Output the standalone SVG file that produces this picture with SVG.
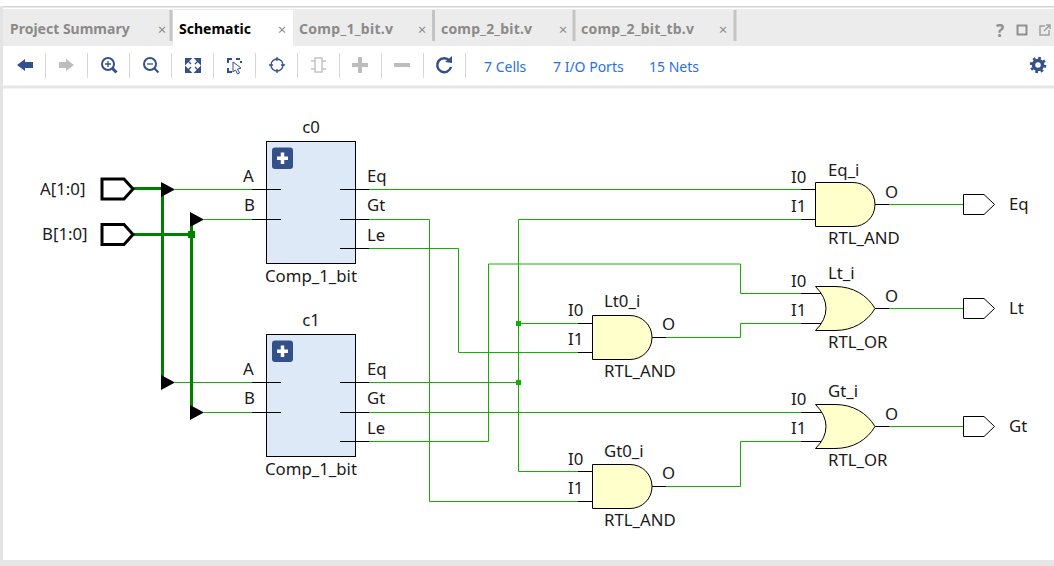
<svg xmlns="http://www.w3.org/2000/svg" xmlns:xlink="http://www.w3.org/1999/xlink" width="1054" height="566" viewBox="0 0 1054 566">
<style>
text{font-family:"Noto Sans","Open Sans","Liberation Sans",sans-serif;font-size:16.8px;fill:#1a1a1a}
.tab{font-size:14px;font-weight:700;fill:#8c8a88}
.tabOn{fill:#000}
.x{font-size:15px;fill:#8f8f8f;text-anchor:middle}
.link{font-size:14px;fill:#2a6fe8}
.sep{stroke:#d6d6d6;stroke-width:1;fill:none}
.tsep{stroke:#c4c4c4;stroke-width:3;fill:none}
.wire{stroke:#14b000;stroke-width:1;fill:none}
.bus{stroke:#008000;stroke-width:3;fill:none}
.dot{fill:#14b000}
.pin{stroke:#000;stroke-width:1;fill:none}
.box{fill:#dee9f8;stroke:#000;stroke-width:1}
.gate{fill:#ffffcc;stroke:#000;stroke-width:1}
.port{fill:#fff;stroke:#000;stroke-width:1}
.iport{fill:#fff;stroke:#000;stroke-width:3}
.ib{fill:#34508a}
.ig{fill:#bdbdbd}
.sb{fill:none;stroke:#34508a;stroke-width:2}
.thin{stroke-width:1.300}
.sg{fill:none;stroke:#c4c4c4;stroke-width:1.500}
.help{font-size:17px;font-weight:700;fill:#8f8f8f;text-anchor:middle}
</style>
<defs>
<path id="and" class="gate" d="M0.5 0.5H38C50 0.5 60 10 60 22.5C60 35 50 44.5 38 44.5H0.5Z"/>
<path id="or" class="gate" d="M0.5 0.5H20C38 0.5 52 9 60 22.5C52 36 38 44.5 20 44.5H0.5Q11 34 11 22.5Q11 11 0.5 0.5Z"/>
<path id="oport" class="port" d="M0.5 0.5H21L31.5 10.5L21 20.5H0.5Z"/>
<path id="inport" class="iport" d="M0 0H22L31 10L22 20H0Z"/>
<polygon id="tri" points="0,-7.5 14,0 0,7.5" fill="#000"/>
<g id="plus"><rect width="21" height="21.500" rx="3" fill="#34508a"/><path d="M10.500 5V16.500M5 10.750H16" stroke="#fff" stroke-width="3.500"/></g>
</defs>
<rect width="1054" height="566" fill="#fff"/>

<g id="chrome">
<rect x="0" y="6" width="1054" height="1.500" fill="#d4d4d4"/>
<rect x="0" y="9" width="1054" height="37" fill="#ececec"/>
<rect x="173" y="10" width="120" height="36" fill="#fff"/>
<rect x="0" y="6" width="3" height="560" fill="#e4e4e4"/>
<rect x="0" y="85.500" width="1054" height="3" fill="#e6e6e6"/>
<rect x="0" y="560" width="1054" height="6" fill="#e6e6e6"/>
<path class="tsep" d="M171 10V41M433.500 10V41M574 10V41M735 10V41"/>
<text class="tab" x="10" y="34">Project Summary</text>
<text class="tab tabOn" x="179" y="34">Schematic</text>
<text class="tab" x="299" y="34" textLength="94">Comp_1_bit.v</text>
<text class="tab" x="441" y="34" textLength="91">comp_2_bit.v</text>
<text class="tab" x="581" y="34" textLength="113">comp_2_bit_tb.v</text>
<text class="x" x="162" y="35">×</text>
<text class="x" x="282" y="35">×</text>
<text class="x" x="422" y="35">×</text>
<text class="x" x="563" y="35">×</text>
<text class="x" x="723" y="35">×</text>
<text class="help" x="1000" y="37">?</text>
<rect x="1017.500" y="25.500" width="9" height="9" fill="none" stroke="#8f8f8f" stroke-width="2"/>
<path d="M1045 26H1040V35H1049V30M1044 31L1050 25M1046 25H1050V29" fill="none" stroke="#a0a0a0" stroke-width="1.500"/>
<path class="sep" d="M45.500 53V78M87.500 53V78M129.500 53V78M171.500 53V78M213.500 53V78M255.500 53V78M297.500 53V78M339.500 53V78M381.500 53V78M423.500 53V78M465.500 53V78"/>
<path class="ib" d="M17 65L25 59V62H33V68H25V71Z"/>
<path class="ig" d="M74 65L66 59V62H59V68H66V71Z"/>
<g class="sb"><circle cx="108" cy="64" r="6"/><path class="thin" d="M108 61V67M105 64H111"/><path d="M112.500 68.500L116.500 72.500" stroke-width="3"/></g>
<g class="sb"><circle cx="150" cy="64" r="6"/><path class="thin" d="M147 64H153"/><path d="M154.500 68.500L158.500 72.500"/></g>
<path class="sb" d="M186 59H190L186 63ZM200 59H196L200 63ZM186 72H190L186 68ZM200 72H196L200 68Z"/>
<path class="sb thin" d="M188 61L191 64M198 61L195 64M188 70L191 67M198 70L195 67"/>
<path class="sb" d="M232 59H228V63M240 59H236M228 68V72H232M241 63V61"/>
<path d="M233 62L241 68L237.500 69L239.500 73L237.500 74L235.500 70L233 72Z" fill="#fff" stroke="#34508a"/>
<g class="sb thin"><circle cx="277" cy="65" r="6"/><path d="M277 57V61M277 69V73M269 65H273M281 65H285"/></g>
<g class="sg"><rect x="315" y="58" width="7" height="14"/><path d="M311 61H315M311 69H315M322 61H326M322 69H326"/></g>
<path class="ig" d="M358 57H362V63H368V67H362V73H358V67H352V63H358Z"/>
<rect class="ig" x="394" y="63" width="16" height="4"/>
<path class="sb" style="stroke-width:2.500" d="M449.500 60.500A7 7 0 1 0 451 67"/>
<path class="ib" d="M445 62L452 56V63Z"/>
<text class="link" x="484" y="72">7 Cells</text>
<text class="link" x="553" y="72">7 I/O Ports</text>
<text class="link" x="649" y="72">15 Nets</text>
<circle cx="1038" cy="65" r="4.500" fill="none" stroke="#34508a" stroke-width="3.500"/>
<circle cx="1038" cy="65" r="7" fill="none" stroke="#34508a" stroke-width="2.500" stroke-dasharray="2.700 2.800"/>
</g>

<g id="connectors">
<path class="wire" d="M175 189.500H252M204 219.500H252M175 382.500H252M204 412.500H252"/>
<path class="wire" d="M369 189.500H801"/>
<path class="wire" d="M369 219.500H429.500V501.500H578"/>
<path class="wire" d="M369 248.500H458.500V352.500H578"/>
<path class="wire" d="M369 382.500H518.500"/>
<path class="wire" d="M801 219.500H518.500V471.500H578M518.500 323.500H578"/>
<path class="wire" d="M369 412.500H801"/>
<path class="wire" d="M369 441.500H488.500V264H740.500V293.500H801"/>
<path class="wire" d="M666 337.500H740.500V323.500H801"/>
<path class="wire" d="M666 486.500H740.500V441.500H801"/>
<path class="wire" d="M889 204.500H963M889 308.500H963M889 426.500H963"/>
<rect class="dot" x="516" y="321" width="5" height="5"/>
<rect class="dot" x="516" y="380" width="5" height="5"/>
<path class="bus" d="M132 188.500H162.500M162.500 188.500V382"/>
<path class="bus" d="M132 234.500H191.500M191.500 219V412"/>
<rect x="188" y="231" width="7" height="7" fill="#008000"/>
<use xlink:href="#tri" href="#tri" x="161" y="189.500"/>
<use xlink:href="#tri" href="#tri" x="190" y="219.500"/>
<use xlink:href="#tri" href="#tri" x="161" y="382.500"/>
<use xlink:href="#tri" href="#tri" x="190" y="412.500"/>
</g>

<g id="port-A"><use xlink:href="#inport" href="#inport" x="102" y="179"/><text x="40" y="195">A[1:0]</text></g>
<g id="port-B"><use xlink:href="#inport" href="#inport" x="102" y="224.500"/><text x="42" y="240">B[1:0]</text></g>

<g id="c0">
<path class="pin" d="M252 189.500H266M252 219.500H266M356 189.500H369M356 219.500H369M356 248.500H369"/>
<rect class="box" x="266.500" y="141.500" width="89" height="122"/>
<path class="pin" d="M266.500 189.500H281M266.500 219.500H281M340 189.500H355.500M340 219.500H355.500M340 248.500H355.500"/>
<use xlink:href="#plus" href="#plus" x="272" y="147.500"/>
<text x="311" y="133" text-anchor="middle">c0</text>
<text x="243" y="182">A</text><text x="244" y="211">B</text>
<text x="367" y="182">Eq</text><text x="367" y="211">Gt</text><text x="367" y="241">Le</text>
<text x="265" y="282">Comp_1_bit</text>
</g>
<g id="c1">
<path class="pin" d="M252 382.500H266M252 412.500H266M356 382.500H369M356 412.500H369M356 441.500H369"/>
<rect class="box" x="266.500" y="334.500" width="89" height="122"/>
<path class="pin" d="M266.500 382.500H281M266.500 412.500H281M340 382.500H355.500M340 412.500H355.500M340 441.500H355.500"/>
<use xlink:href="#plus" href="#plus" x="272" y="340.500"/>
<text x="311" y="326" text-anchor="middle">c1</text>
<text x="243" y="375">A</text><text x="244" y="404">B</text>
<text x="367" y="375">Eq</text><text x="367" y="404">Gt</text><text x="367" y="434">Le</text>
<text x="265" y="475">Comp_1_bit</text>
</g>

<g id="Eq_i">
<path class="pin" d="M801 189.500H816M801 219.500H816M875 204.500H889"/>
<use xlink:href="#and" href="#and" x="815" y="182"/>
<text x="828" y="176">Eq_i</text><text x="791" y="183">I0</text><text x="791" y="212">I1</text><text x="885" y="198">O</text><text x="828" y="244">RTL_AND</text>
</g>
<g id="Lt_i">
<path class="pin" d="M801 293.500H822M801 323.500H822M875 308.500H889"/>
<use xlink:href="#or" href="#or" x="815" y="286"/>
<text x="828" y="279">Lt_i</text><text x="791" y="287">I0</text><text x="791" y="316">I1</text><text x="885" y="302">O</text><text x="828" y="348">RTL_OR</text>
</g>
<g id="Gt_i">
<path class="pin" d="M801 412.500H822M801 441.500H822M875 426.500H889"/>
<use xlink:href="#or" href="#or" x="815" y="404"/>
<text x="828" y="397">Gt_i</text><text x="791" y="405">I0</text><text x="791" y="434">I1</text><text x="885" y="420">O</text><text x="828" y="466">RTL_OR</text>
</g>
<g id="Lt0_i">
<path class="pin" d="M578 323.500H593M578 352.500H593M652 337.500H666"/>
<use xlink:href="#and" href="#and" x="592" y="315"/>
<text x="604" y="307">Lt0_i</text><text x="568" y="316">I0</text><text x="568" y="345">I1</text><text x="662" y="330">O</text><text x="604" y="377">RTL_AND</text>
</g>
<g id="Gt0_i">
<path class="pin" d="M578 471.500H593M578 501.500H593M652 486.500H666"/>
<use xlink:href="#and" href="#and" x="592" y="464"/>
<text x="604" y="457">Gt0_i</text><text x="568" y="465">I0</text><text x="568" y="494">I1</text><text x="662" y="479">O</text><text x="604" y="526">RTL_AND</text>
</g>

<g id="port-Eq"><use xlink:href="#oport" href="#oport" x="963" y="194"/><text x="1009" y="210">Eq</text></g>
<g id="port-Lt"><use xlink:href="#oport" href="#oport" x="963" y="298"/><text x="1009" y="314">Lt</text></g>
<g id="port-Gt"><use xlink:href="#oport" href="#oport" x="963" y="416"/><text x="1009" y="432">Gt</text></g>
</svg>
